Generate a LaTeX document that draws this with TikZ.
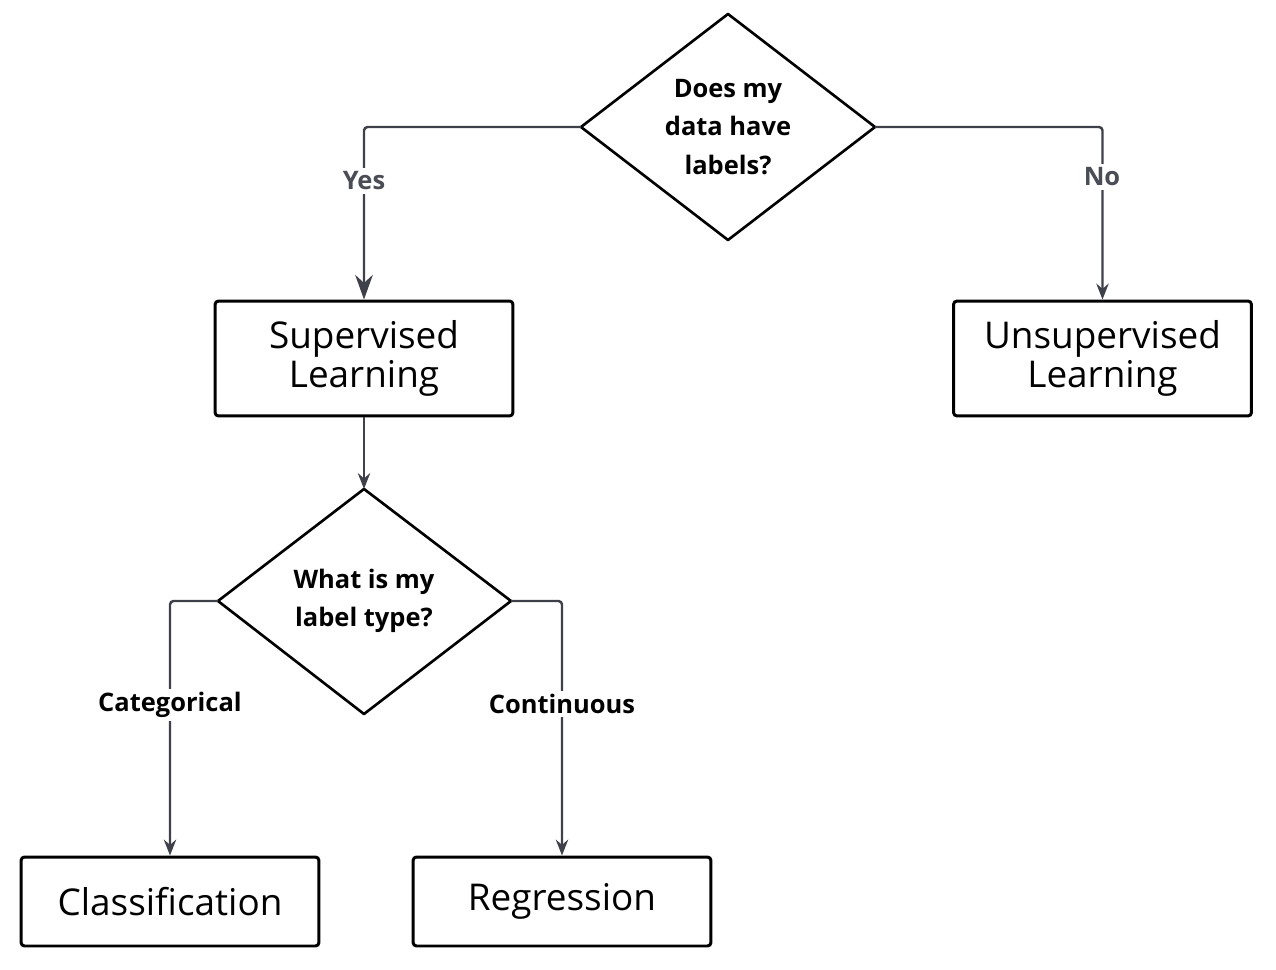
\documentclass[tikz,border=0pt]{standalone}
\usepackage{fontspec}
\setmainfont{Open Sans}
\usetikzlibrary{arrows.meta}
\definecolor{conn}{HTML}{3E4149}
\definecolor{lab}{HTML}{4A4D55}
\begin{document}
\begin{tikzpicture}[x=0.02cm,y=-0.02cm,
  box/.style={draw=black,line width=1.7pt,rounded corners=2pt,minimum width=5.96cm,inner sep=0pt,align=center,font=\fontsize{21}{22}\selectfont},
  dia/.style={draw=black,line width=1.5pt,line join=round},
  dtext/.style={align=center,font=\bfseries\fontsize{14.5}{22}\selectfont},
  conn/.style={draw=conn,line width=1.4pt,rounded corners=2pt,-{Stealth[length=9pt,width=7pt]}},
  lbl/.style={fill=white,inner sep=2pt,font=\bfseries\fontsize{14.5}{16}\selectfont}]
\useasboundingbox (0,0) rectangle (1276,970);
% diamond 1
\coordinate (d1t) at (728,14); \coordinate (d1b) at (728,240);
\coordinate (d1l) at (581,127); \coordinate (d1r) at (875,127);
\draw[dia] (d1t)--(d1r)--(d1b)--(d1l)--cycle;
\node[dtext] (d1) at (728,127) {Does my\\data have\\labels?};
% diamond 2
\coordinate (d2t) at (364,489); \coordinate (d2b) at (364,714);
\coordinate (d2l) at (218,601); \coordinate (d2r) at (511,601);
\draw[dia] (d2t)--(d2r)--(d2b)--(d2l)--cycle;
\node[dtext] (d2) at (364,601) {What is my\\label type?};
% boxes
\node[box,minimum height=2.3cm] (sup) at (364,358.5) {Supervised\\Learning};
\node[box,minimum height=2.3cm] (uns) at (1102.5,358.5) {Unsupervised\\Learning};
\node[box,minimum height=1.78cm] (cls) at (170,901.5) {Classification};
\node[box,minimum height=1.78cm] (reg) at (562,901.5) {Regression};
% connectors
\draw[conn,-{Stealth[length=14pt,width=10pt]}] (d1l) -| (sup.north);
\node[lbl,text=lab] at (364,181) {Yes};
\draw[conn] (d1r) -| (uns.north);
\node[lbl,text=lab] at (1102,177) {No};
\draw[conn] (sup.south) -- (d2t);
\draw[conn] (d2l) -| (cls.north);
\node[lbl] at (170,705) {Categorical};
\draw[conn] (d2r) -| (reg.north);
\node[lbl] at (562,704) {Continuous};
\end{tikzpicture}
\end{document}
